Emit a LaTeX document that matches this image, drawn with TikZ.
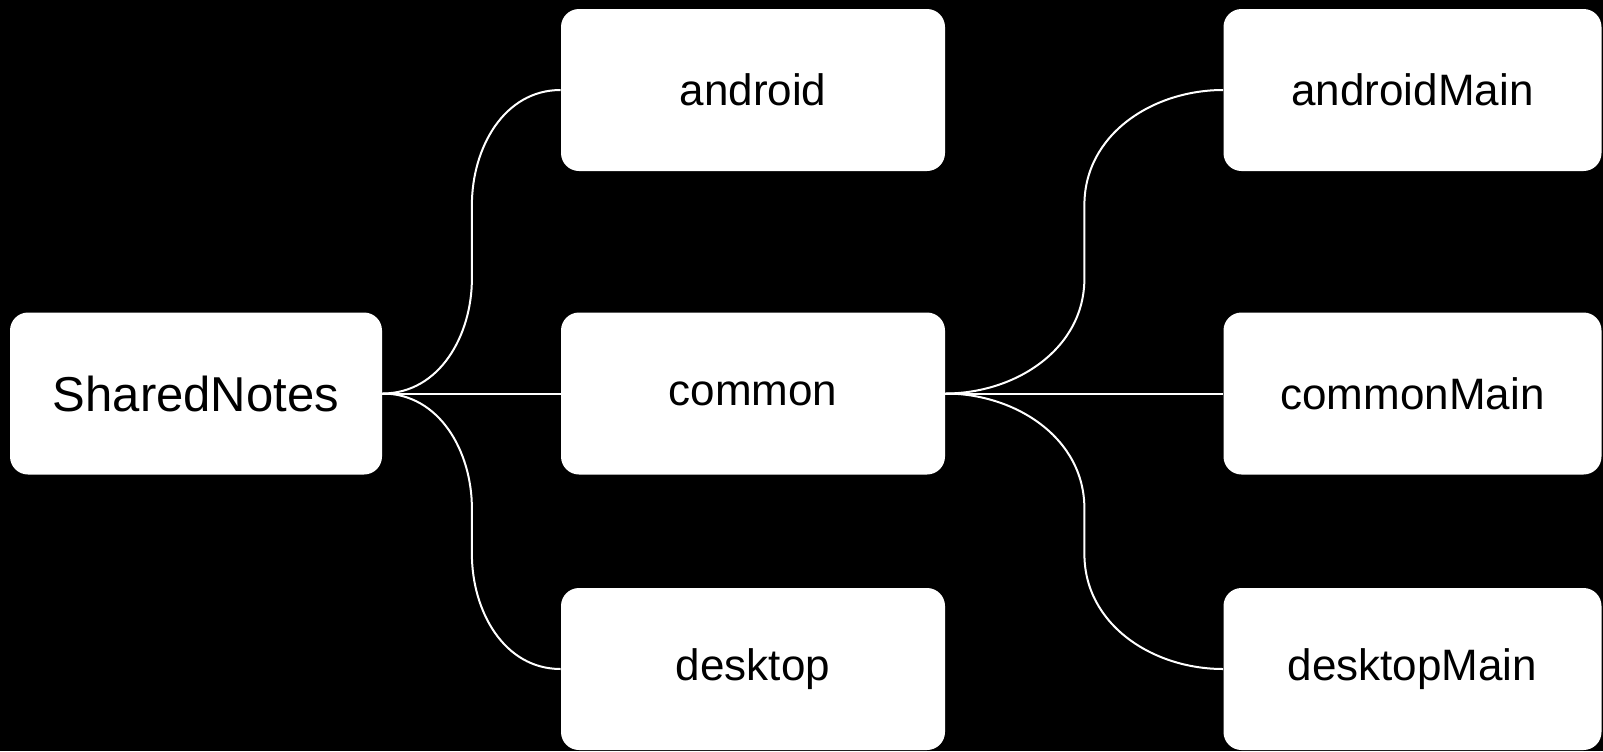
\documentclass[tikz,border=0pt]{standalone}
\usepackage{fontspec}
\setmainfont{Liberation Sans}
\tikzset{
  box/.style={fill=white,draw=none,rounded corners=9pt,inner sep=0pt,
    minimum height=81pt,font=\fontsize{22}{26}\selectfont},
  link/.style={white,line width=1pt}
}
\begin{document}
\begin{tikzpicture}[x=0.5pt,y=0.5pt]
            \fill[black] (0,0) rectangle (1603,-751);
            \useasboundingbox (0,0) rectangle (1603,-751);
            \node[box,minimum width=186pt,font=\fontsize{24.5}{29}\selectfont] (shared) at (196,-393.5) {SharedNotes};
            \node[box,minimum width=192pt] (android) at (753,-90) {android};
            \node[box,minimum width=192pt] (common) at (753,-393.5) {common};
            \node[box,minimum width=192pt] (desktop) at (753,-669) {desktop};
            \node[box,minimum width=189pt] (androidMain) at (1412.5,-90) {androidMain};
            \node[box,minimum width=189pt] (commonMain) at (1412.5,-393.5) {commonMain};
            \node[box,minimum width=189pt] (desktopMain) at (1412.5,-669) {desktopMain};
            \draw[link] (shared.east) to[out=0,in=-90] ++(89.5,115) -- ++(0,73.5) to[out=90,in=180] (android.west);
            \draw[link] (shared.east) -- (common.west);
            \draw[link] (shared.east) to[out=0,in=90] ++(89.5,-115) -- ++(0,-45.5) to[out=-90,in=180] (desktop.west);
            \draw[link] (common.east) to[out=0,in=-90] ++(139,115) -- ++(0,73.5) to[out=90,in=180] (androidMain.west);
            \draw[link] (common.east) -- (commonMain.west);
            \draw[link] (common.east) to[out=0,in=90] ++(139,-115) -- ++(0,-45.5) to[out=-90,in=180] (desktopMain.west);
        \end{tikzpicture}
\end{document}
